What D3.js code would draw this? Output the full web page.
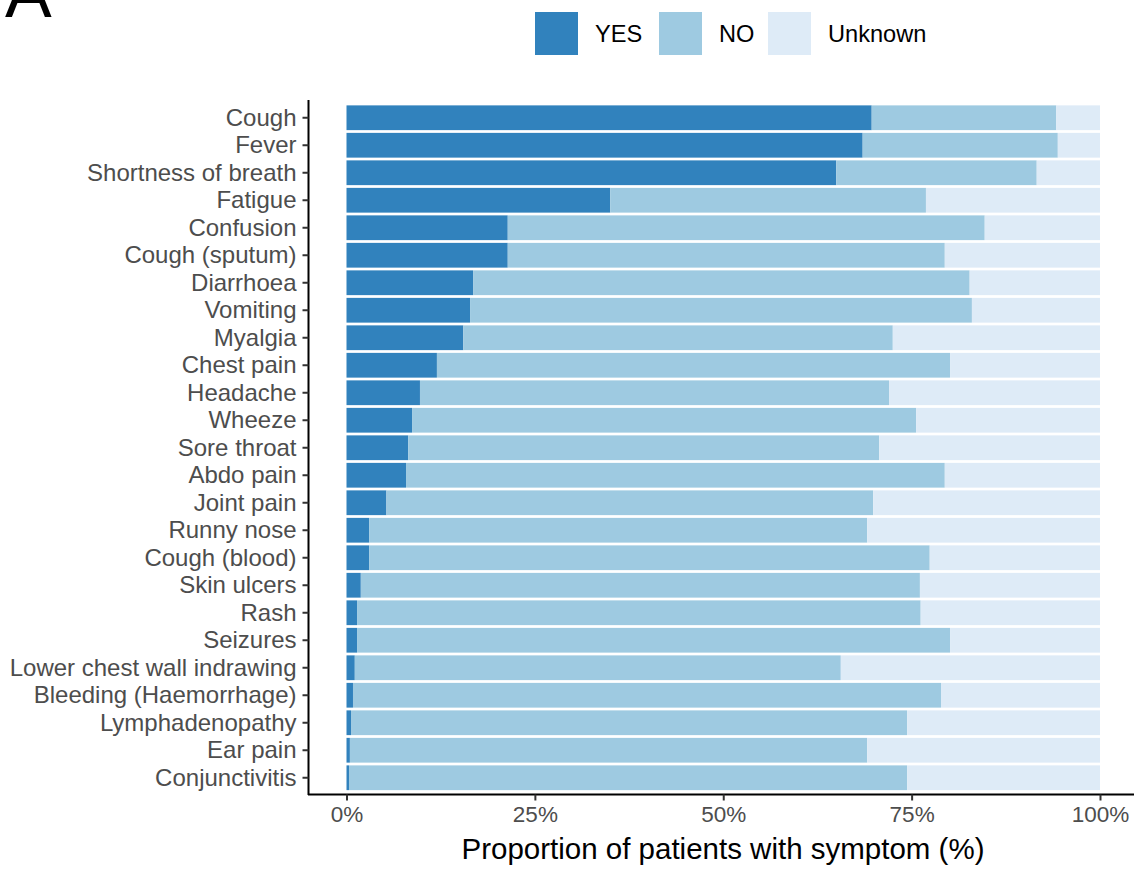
<!DOCTYPE html>
<html><head><meta charset="utf-8">
<script src="https://cdn.jsdelivr.net/npm/d3@7"></script>
<style>body{margin:0;background:#fff}svg{display:block}</style>
</head><body>
<script>
const categories = ["Cough","Fever","Shortness of breath","Fatigue","Confusion","Cough (sputum)","Diarrhoea","Vomiting","Myalgia","Chest pain","Headache","Wheeze","Sore throat","Abdo pain","Joint pain","Runny nose","Cough (blood)","Skin ulcers","Rash","Seizures","Lower chest wall indrawing","Bleeding (Haemorrhage)","Lymphadenopathy","Ear pain","Conjunctivitis"];
const yesValues = [69.7,68.5,65.0,35.0,21.4,21.4,16.8,16.4,15.5,12.0,9.75,8.7,8.2,7.9,5.3,3.0,3.0,1.9,1.4,1.4,1.1,0.86,0.6,0.45,0.33];
const noValues = [24.5,25.9,26.6,41.9,63.3,58.0,65.9,66.6,57.0,68.1,62.25,66.9,62.5,71.5,64.6,66.1,74.4,74.2,74.8,78.7,64.5,78.04,73.8,68.65,74.07];
const unknownValues = categories.map((c,i)=> +(100 - yesValues[i] - noValues[i]).toFixed(2));
const seriesKeys = ["YES","NO","Unknown"];
const seriesColors = ["#3182bd","#9ecae1","#deebf7"];
const xTicks = [0,25,50,75,100];

const W=1134,H=870;
const svg=d3.select("body").append("svg").attr("width",W).attr("height",H);
const x=d3.scaleLinear().domain([0,100]).range([346.5,1100]);
const y=d3.scaleBand().domain(categories).range([104,791.5]).paddingInner(0.1).paddingOuter(0.05);
const color=d3.scaleOrdinal().domain(seriesKeys).range(seriesColors);

const rows=categories.map((c,i)=>({cat:c,YES:yesValues[i],NO:noValues[i],Unknown:unknownValues[i]}));
const stacked=d3.stack().keys(seriesKeys)(rows);

svg.append("g").selectAll("g").data(stacked).join("g").attr("fill",d=>color(d.key))
 .selectAll("rect").data(d=>d).join("rect")
 .attr("x",d=>x(d[0])).attr("width",d=>x(d[1])-x(d[0]))
 .attr("y",d=>y(d.data.cat)).attr("height",y.bandwidth());

// axes
const font="Liberation Sans, Arial, Helvetica, sans-serif";
const yAxis=svg.append("g").attr("transform","translate(308.5,0)")
 .call(d3.axisLeft(y).tickSize(6).tickPadding(6).tickSizeOuter(0));
yAxis.select(".domain").attr("stroke","#000").attr("stroke-width",2).attr("d","M0,100V795");
yAxis.selectAll(".tick line").attr("stroke","#333").attr("stroke-width",2);
yAxis.selectAll(".tick text").attr("fill","#4d4d4d").style("font-family",font).style("font-size","24px").attr("dy","0.34em");

const xAxis=svg.append("g").attr("transform","translate(0,794.5)")
 .call(d3.axisBottom(x).tickValues(xTicks).tickFormat(d=>d+"%").tickSize(6).tickPadding(6).tickSizeOuter(0));
xAxis.select(".domain").attr("stroke","#000").attr("stroke-width",2).attr("d","M308,0H1134");
xAxis.selectAll(".tick line").attr("stroke","#333").attr("stroke-width",2);
xAxis.selectAll(".tick text").attr("fill","#4d4d4d").style("font-family",font).style("font-size","22.5px").attr("dy","0.71em");

svg.append("text").attr("x",723).attr("y",859).attr("text-anchor","middle")
 .style("font-family",font).style("font-size","29.5px").attr("fill","#000")
 .text("Proportion of patients with symptom (%)");

// legend
const legX=[535,659,768];
const lg=svg.append("g");
seriesKeys.forEach((k,i)=>{
  lg.append("rect").attr("x",legX[i]).attr("y",12).attr("width",43).attr("height",43).attr("fill",color(k));
  lg.append("text").attr("x",legX[i]+60).attr("y",34).attr("dy","0.35em")
   .style("font-family",font).style("font-size","23.6px").attr("fill","#000").text(k);
});

svg.append("text").attr("x",5).attr("y",17).style("font-family",font).style("font-size","70px").attr("fill","#000").text("A");
</script>
</body></html>
